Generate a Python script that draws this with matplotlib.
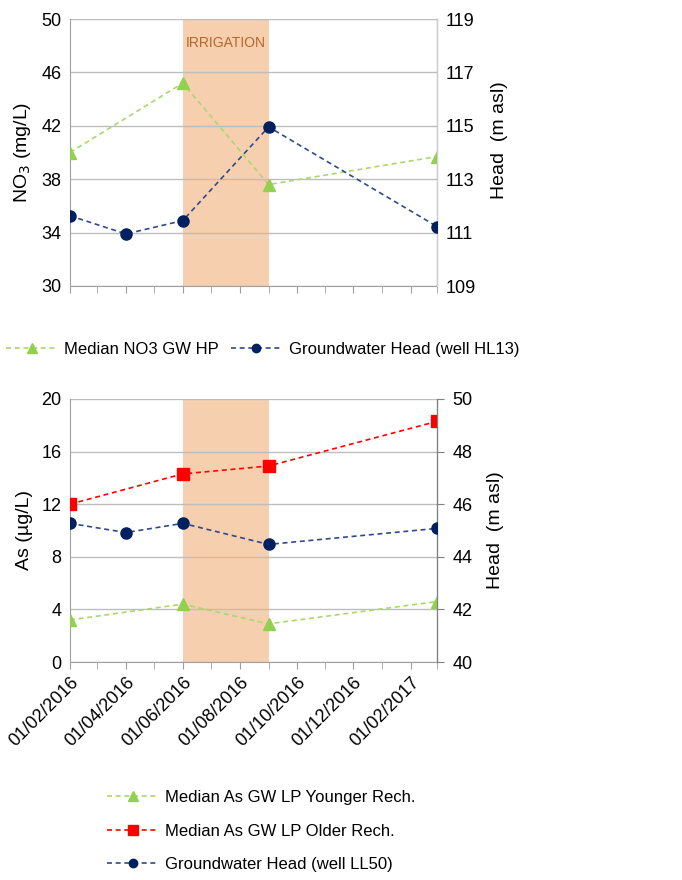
"""Recreate the NO3 / As vs groundwater head figure."""

import datetime as dt

import matplotlib
matplotlib.use("Agg")
import matplotlib.pyplot as plt
import matplotlib.dates as mdates
from matplotlib.lines import Line2D

plt.rcParams["font.family"] = ["Liberation Sans", "DejaVu Sans"]

# --- data -------------------------------------------------------------------
no3_dates = [dt.date(2016, 2, 1), dt.date(2016, 6, 1), dt.date(2016, 9, 1), dt.date(2017, 3, 1)]
no3_median = [40.0, 45.2, 37.6, 39.7]

head_dates = [dt.date(2016, 2, 1), dt.date(2016, 4, 1), dt.date(2016, 6, 1),
              dt.date(2016, 9, 1), dt.date(2017, 3, 1)]
head_hl13 = [111.63, 110.95, 111.45, 114.96, 111.22]

as_dates = [dt.date(2016, 2, 1), dt.date(2016, 6, 1), dt.date(2016, 9, 1), dt.date(2017, 3, 1)]
as_younger = [3.2, 4.4, 2.9, 4.6]
as_older = [12.0, 14.3, 14.9, 18.3]
head_ll50 = [45.27, 44.92, 45.27, 44.47, 45.08]

irrigation = (dt.date(2016, 6, 1), dt.date(2016, 9, 1))
x_range = (dt.date(2016, 2, 1), dt.date(2017, 3, 1))

GREEN = "#92D050"
GREEN_LINE = "#A9D86E"
NAVY = "#002060"
NAVY_LINE = "#2F4A8A"
RED = "#FF0000"
SHADE = "#F6CFAE"
GRID = "#BDBDBD"
SPINE = "#A0A0A0"
FS = 13
LFS = 12
DASH = (3, 2.2)


def style_axes(ax, ax2, show_xlabels):
    ax.set_xlim(*x_range)
    ax.xaxis.set_major_locator(mdates.MonthLocator(bymonth=[2, 4, 6, 8, 10, 12]))
    ax.xaxis.set_minor_locator(mdates.MonthLocator())
    ax.xaxis.set_major_formatter(mdates.DateFormatter("%d/%m/%Y"))
    ax.tick_params(axis="x", which="both", direction="out", length=5, color=SPINE)
    ax.tick_params(axis="y", length=0, labelsize=FS, pad=6)
    ax2.tick_params(axis="y", length=0, labelsize=FS, pad=6)
    if show_xlabels:
        plt.setp(ax.get_xticklabels(), rotation=45, ha="right", rotation_mode="anchor", fontsize=FS)
    else:
        ax.tick_params(axis="x", labelbottom=False)
    ax.grid(True, axis="y", color=GRID, linewidth=1.0)
    ax.spines["top"].set_visible(False)
    ax2.spines["top"].set_visible(False)
    ax.spines["left"].set_color(SPINE)
    ax.spines["bottom"].set_color(SPINE)
    ax2.spines["left"].set_visible(False)
    ax2.spines["bottom"].set_visible(False)


def series(ax, x, y, color, line_color, marker, size):
    ax.plot(x, y, linestyle="--", dashes=DASH, color=line_color, linewidth=1.2,
            marker=marker, markersize=size, markerfacecolor=color, markeredgecolor=color, zorder=3)


def handle(color, line_color, marker, size, label):
    return Line2D([], [], linestyle="--", dashes=DASH, color=line_color, linewidth=1.2, marker=marker,
                  markersize=size, markerfacecolor=color, markeredgecolor=color, label=label)


fig = plt.figure(figsize=(6.82, 8.8), dpi=100)

# --- top panel: NO3 -----------------------------------------------------------
ax1 = fig.add_axes([0.1026, 0.675, 0.5387, 0.3034])
ax1b = ax1.twinx()
ax1.axvspan(*irrigation, color=SHADE, zorder=1, linewidth=0)
mid = (mdates.date2num(irrigation[0]) + mdates.date2num(irrigation[1])) / 2
ax1.text(mid, 48.2, "IRRIGATION", color="#B8652A", ha="center", va="center", fontsize=10)
series(ax1, no3_dates, no3_median, GREEN, GREEN_LINE, "^", 8)
series(ax1b, head_dates, head_hl13, NAVY, NAVY_LINE, "o", 8)
ax1.set_ylim(30, 50)
ax1.set_yticks([30, 34, 38, 42, 46, 50])
ax1b.set_ylim(109, 119)
ax1b.set_yticks([109, 111, 113, 115, 117, 119])
ax1.set_ylabel("NO$_3$ (mg/L)", fontsize=14, labelpad=6)
ax1b.set_ylabel("Head  (m asl)", fontsize=14, labelpad=10)
style_axes(ax1, ax1b, show_xlabels=False)
ax1b.yaxis.set_label_coords(1.145, 0.547)
ax1b.spines["right"].set_color("#D0D0D0")

top_handles = [
    handle(GREEN, GREEN_LINE, "^", 7, "Median NO3 GW HP"),
    handle(NAVY, NAVY_LINE, "o", 6, "Groundwater Head (well HL13)"),
]
fig.legend(handles=top_handles, loc="center", bbox_to_anchor=(0.385, 1 - 349 / 880), ncol=2,
           frameon=False, fontsize=LFS, handlelength=3.1, columnspacing=0.7, handletextpad=0.4)

# --- bottom panel: As ---------------------------------------------------------
ax2 = fig.add_axes([0.1026, 0.2477, 0.5387, 0.299])
ax2b = ax2.twinx()
ax2.axvspan(*irrigation, color=SHADE, zorder=1, linewidth=0)
series(ax2, as_dates, as_older, RED, RED, "s", 9)
series(ax2, as_dates, as_younger, GREEN, GREEN_LINE, "^", 8)
series(ax2b, head_dates, head_ll50, NAVY, NAVY_LINE, "o", 8)
ax2.set_ylim(0, 20)
ax2.set_yticks([0, 4, 8, 12, 16, 20])
ax2b.set_ylim(40, 50)
ax2b.set_yticks([40, 42, 44, 46, 48, 50])
ax2.set_ylabel("As (µg/L)", fontsize=14, labelpad=6)
ax2b.set_ylabel("Head  (m asl)", fontsize=14, labelpad=10)
style_axes(ax2, ax2b, show_xlabels=True)
ax2b.spines["right"].set_color("#808080")
ax2b.tick_params(axis="y", length=5, color="#808080", direction="out")

bottom_handles = [
    handle(GREEN, GREEN_LINE, "^", 7, "Median As GW LP Younger Rech."),
    handle(RED, RED, "s", 7, "Median As GW LP Older Rech."),
    handle(NAVY, NAVY_LINE, "o", 6, "Groundwater Head (well LL50)"),
]
fig.legend(handles=bottom_handles, loc="center", bbox_to_anchor=(0.383, 1 - 831 / 880), ncol=1,
           frameon=False, fontsize=LFS, handlelength=3.1, handletextpad=0.4, labelspacing=1.1)

fig.savefig("out.png", dpi=100)
